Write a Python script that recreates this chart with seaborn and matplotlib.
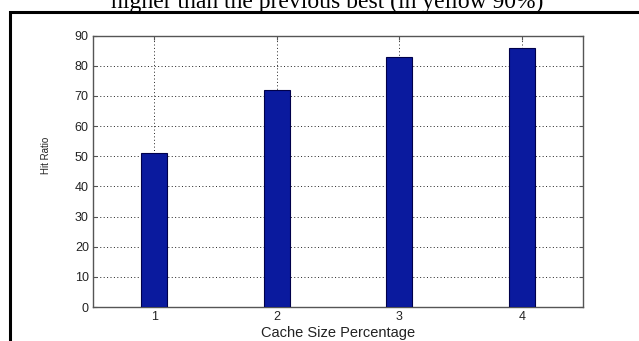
import matplotlib
matplotlib.use("Agg")
import matplotlib.pyplot as plt
import seaborn as sns
import pandas as pd
from matplotlib.patches import Rectangle

categories = ["1", "2", "3", "4"]
hit_ratio = [51, 72, 83, 86]
y_ticks = [0, 10, 20, 30, 40, 50, 60, 70, 80, 90]

sns.set_style("white")
plt.rcParams['font.family'] = ['Liberation Sans', 'DejaVu Sans']

df = pd.DataFrame({"size": categories, "hit": hit_ratio})

fig = plt.figure(figsize=(6.39, 3.41), dpi=100)
ax = fig.add_axes([93/639, 1-307/341, 490/639, (307-35.7)/341])

sns.barplot(data=df, x="size", y="hit", order=categories, color="#0a1a9e",
            saturation=1, width=0.21, edgecolor="#00004a", linewidth=0.8, ax=ax, zorder=3)

ax.set_xlim(-0.5, 3.5)
ax.set_ylim(0, 90)
ax.set_yticks(y_ticks)
ax.set_yticklabels([str(v) for v in y_ticks])
ax.grid(True, color="#222222", linestyle=(0, (1, 2.5)), linewidth=0.7, zorder=0)
ax.set_axisbelow(True)
for s in ax.spines.values():
    s.set_color("#555555")
    s.set_linewidth(1.0)
ax.tick_params(direction="in", length=3, color="#555555", labelsize=9,
               labelcolor="#222222", left=True, bottom=True, right=True, top=True, pad=3)
ax.set_xlabel("Cache Size Percentage", fontsize=10.5, color="#222222", labelpad=2)
ax.set_ylabel("Hit Ratio", fontsize=7, color="#222222")
ax.yaxis.set_label_coords(-0.086, 0.56)

# document frame around the figure
fig.patches.append(Rectangle((10/639, -0.1), 1.2, 1 - 12/341 + 0.1, transform=fig.transFigure,
                             fill=False, edgecolor="black", linewidth=2.2))
fig.text(327/639, 1 - 8/341, "higher than the previous best (in yellow 90%)",
         ha="center", va="baseline", fontsize=17, family=["Liberation Serif", "DejaVu Serif"], color="black")

fig.savefig("out.png", dpi=100)
